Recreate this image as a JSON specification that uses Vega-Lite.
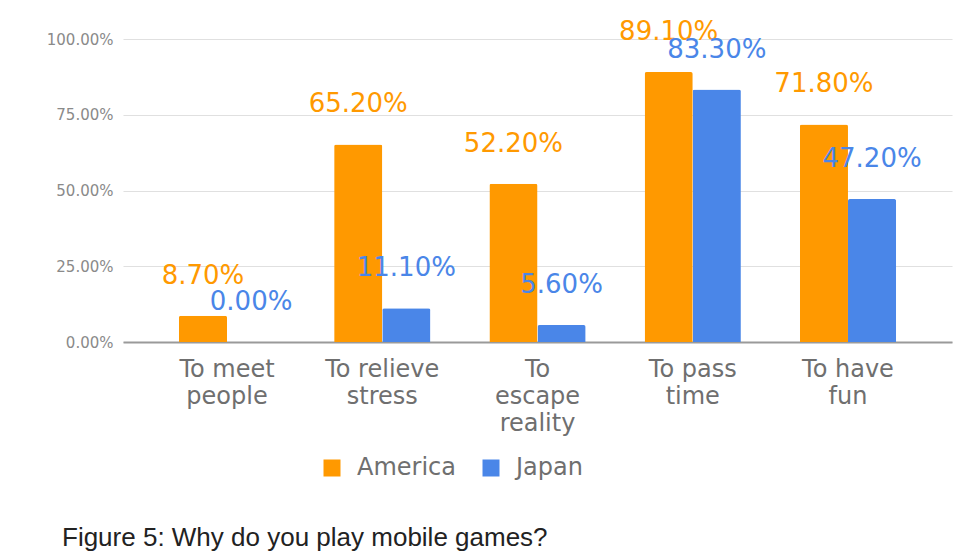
{
  "$schema": "https://vega.github.io/schema/vega-lite/v6.json",
  "autosize": {"type": "none"},
  "width": 829,
  "height": 303,
  "padding": {"left": 123, "top": 39, "right": 21, "bottom": 212},
  "background": "white",
  "data": {
    "values": [
      {"reason": "To meet|people", "country": "America", "share": 0.087},
      {"reason": "To meet|people", "country": "Japan", "share": 0.0},
      {"reason": "To relieve|stress", "country": "America", "share": 0.652},
      {"reason": "To relieve|stress", "country": "Japan", "share": 0.111},
      {"reason": "To|escape|reality", "country": "America", "share": 0.522},
      {"reason": "To|escape|reality", "country": "Japan", "share": 0.056},
      {"reason": "To pass|time", "country": "America", "share": 0.891},
      {"reason": "To pass|time", "country": "Japan", "share": 0.833},
      {"reason": "To have|fun", "country": "America", "share": 0.718},
      {"reason": "To have|fun", "country": "Japan", "share": 0.472}
    ]
  },
  "title": {
    "text": "Figure 5: Why do you play mobile games?",
    "orient": "bottom",
    "anchor": "start",
    "frame": "group",
    "dx": -61,
    "offset": 45,
    "font": "Liberation Sans",
    "fontSize": 26,
    "fontWeight": "normal",
    "color": "#222222"
  },
  "encoding": {
    "x": {
      "field": "reason",
      "type": "nominal",
      "sort": null,
      "scale": {"paddingInner": 0.38, "paddingOuter": 0.36},
      "axis": {
        "title": null,
        "labelAngle": 0,
        "labelExpr": "split(datum.value, '|')",
        "labelFont": "DejaVu Sans",
        "labelFontSize": 24,
        "labelLineHeight": 27,
        "labelColor": "#6f6f6f",
        "labelPadding": 15,
        "labelBaseline": "top",
        "ticks": false,
        "domainColor": "#9a9a9a",
        "domainWidth": 2,
        "grid": false
      }
    },
    "xOffset": {"field": "country", "type": "nominal", "scale": {"paddingInner": 0, "paddingOuter": 0}},
    "y": {
      "field": "share",
      "type": "quantitative",
      "scale": {"domain": [0, 1], "nice": false},
      "axis": {
        "title": null,
        "values": [0, 0.25, 0.5, 0.75, 1],
        "format": ".2%",
        "labelFont": "DejaVu Sans",
        "labelFontSize": 15,
        "labelColor": "#8a8a8a",
        "labelPadding": 10,
        "ticks": false,
        "domain": false,
        "grid": true,
        "gridColor": "#e0e0e0",
        "gridWidth": 1.2
      }
    },
    "color": {
      "field": "country",
      "type": "nominal",
      "scale": {"domain": ["America", "Japan"], "range": ["#FF9900", "#4A86E8"]},
      "legend": {
        "title": null,
        "orient": "none",
        "direction": "horizontal",
        "legendX": 197,
        "legendY": 417,
        "symbolType": "square",
        "symbolSize": 289,
        "symbolStrokeWidth": 0,
        "symbolOpacity": 1,
        "labelFont": "DejaVu Sans",
        "labelFontSize": 24,
        "labelColor": "#6f6f6f",
        "labelOffset": 13,
        "columnPadding": 23
      }
    }
  },
  "layer": [
    {
      "mark": {"type": "bar", "cornerRadiusTopLeft": 2, "cornerRadiusTopRight": 2}
    },
    {
      "mark": {"type": "text", "baseline": "alphabetic", "dy": -32, "font": "DejaVu Sans", "fontSize": 26},
      "encoding": {
        "text": {"field": "share", "type": "quantitative", "format": ".2%"}
      }
    }
  ],
  "config": {"view": {"stroke": null}}
}
